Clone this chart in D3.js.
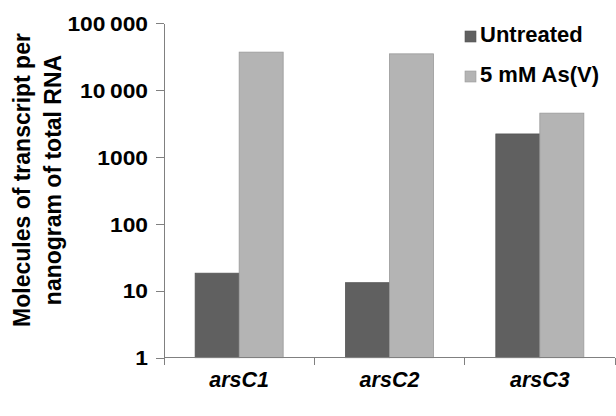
<!DOCTYPE html>
<html>
<head>
<meta charset="utf-8">
<script src="https://cdn.jsdelivr.net/npm/d3@7"></script>
<style>
	body { margin: 0; background: #fff; }
	svg { display: block; font-family: "Liberation Sans", Arial, sans-serif; font-weight: bold; }
	.axis path, .axis line { stroke: #808080; shape-rendering: crispEdges; }
</style>
</head>
<body>
<div id="chart"></div>
<script>
const genes = ['arsC1', 'arsC2', 'arsC3']
const series = ['Untreated', '5 mM As(V)']
const untreated = [18.3, 13.2, 2200]
const arsenate = [36700, 34600, 4500]
const yTicks = [1, 10, 100, 1000, 10000, 100000]
const colors = ['#606060', '#b4b4b4']
const strokes = ['#555555', '#9a9a9a']

const values = [untreated, arsenate]

const svg = d3.select('#chart').append('svg')
	.attr('width', 616).attr('height', 416)

const x0 = d3.scaleBand()
	.domain(genes)
	.range([164, 615])

const x1 = d3.scaleBand()
	.domain(series)
	.range([0, x0.bandwidth()])
	.paddingOuter(0.708)

const y = d3.scaleLog()
	.domain([1, 100000])
	.range([357.7, 23])

const fmt = d => d >= 10000 ? d3.format(',')(d).replace(',', '\u2009') : String(d)

// y axis
const yAxis = svg.append('g')
	.attr('class', 'axis')
	.attr('transform', 'translate(164,0)')
	.call(d3.axisLeft(y).tickValues(yTicks).tickFormat(fmt).tickSize(8).tickSizeOuter(0))
yAxis.selectAll('text')
	.attr('x', 0)
	.attr('transform', 'translate(-16,0) scale(1.2,1.05)')
	.attr('dy', '0.36em')
	.style('font-size', '19px')
	.style('font-weight', 'bold')
	.style('fill', '#000')
	.style('font-family', '"Liberation Sans", Arial, sans-serif')

// bars
const groups = svg.append('g').selectAll('g')
	.data(genes)
	.join('g')
	.attr('transform', d => `translate(${x0(d)},0)`)

groups.selectAll('rect')
	.data((g, i) => series.map((s, k) => ({ s, k, v: values[k][i] })))
	.join('rect')
	.attr('x', d => x1(d.s))
	.attr('width', x1.bandwidth())
	.attr('y', d => y(d.v))
	.attr('height', d => y(1) - y(d.v))
	.attr('fill', d => colors[d.k])
	.attr('stroke', d => strokes[d.k])
	.attr('stroke-width', 0.8)

// x axis
const xAxis = svg.append('g')
	.attr('class', 'axis')
	.attr('transform', `translate(0,${y(1)})`)
xAxis.append('line')
	.attr('x1', 164).attr('x2', 615)
xAxis.selectAll('.bound')
	.data([...genes.map(g => x0(g)), x0.range()[1]])
	.join('line')
	.attr('class', 'bound')
	.attr('x1', d => d).attr('x2', d => d)
	.attr('y1', 0).attr('y2', 7)
xAxis.selectAll('.lbl')
	.data(genes)
	.join('text')
	.attr('class', 'lbl')
	.attr('x', d => x0(d) + x0.bandwidth() / 2)
	.attr('y', 29)
	.attr('text-anchor', 'middle')
	.style('font-size', '21.5px')
	.style('font-style', 'italic')
	.text(d => d)

// y label, glyphs a little taller across the rotated line
const yl = svg.append('text')
	.attr('transform', 'translate(0,180) rotate(-90) scale(1,1.08)')
	.attr('text-anchor', 'middle')
	.style('font-size', '23px')
yl.append('tspan').attr('x', 0).attr('y', 28).text('Molecules of transcript per')
yl.append('tspan').attr('x', 0).attr('y', 56.5).text('nanogram of total RNA')

// legend
const legend = svg.append('g').selectAll('g')
	.data(series)
	.join('g')
	.attr('transform', (d, i) => `translate(465,${31 + i * 40})`)
legend.append('rect')
	.attr('width', 11).attr('height', 11)
	.attr('fill', (d, i) => colors[i])
	.attr('stroke', (d, i) => strokes[i])
	.attr('stroke-width', 0.6)
legend.append('text')
	.attr('x', 15).attr('y', 11)
	.style('font-size', '22px')
	.text(d => d)
</script>
</body>
</html>
